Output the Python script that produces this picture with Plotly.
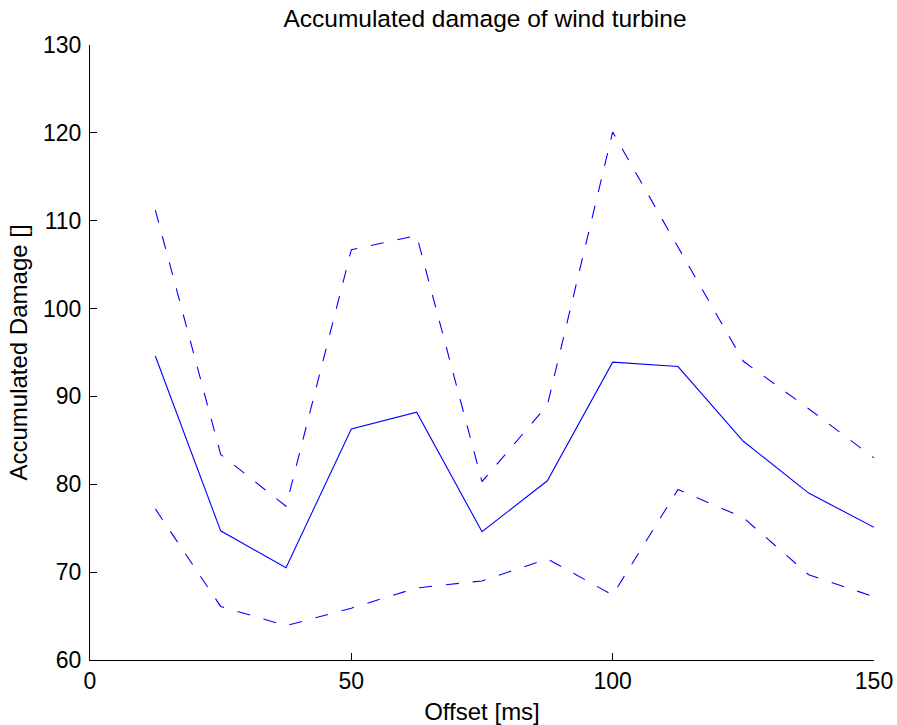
import plotly.graph_objects as go

offset_ms = [12.5, 25, 37.5, 50, 62.5, 75, 87.5, 100, 112.5, 125, 137.5, 150]
damage_mean = [94.6, 74.7, 70.5, 86.3, 88.2, 74.6, 80.4, 93.9, 93.4, 84.9, 79.0, 75.1]
damage_upper = [111.2, 83.4, 77.5, 106.7, 108.3, 80.3, 89.0, 120.1, 107.0, 94.0, 88.6, 83.0]
damage_lower = [77.2, 66.1, 63.9, 65.9, 68.2, 69.0, 71.5, 67.4, 79.4, 76.2, 69.7, 67.2]

x_ticks = [0, 50, 100, 150]
y_ticks = [60, 70, 80, 90, 100, 110, 120, 130]

FONT = "Liberation Sans, Arial, Helvetica, sans-serif"
BLUE = "#0000ff"

W, H = 897, 725

fig = go.Figure()
fig.add_trace(go.Scatter(x=offset_ms, y=damage_mean, mode="lines",
                         line=dict(color=BLUE, width=1.1), showlegend=False))
fig.add_trace(go.Scatter(x=offset_ms, y=damage_upper, mode="lines",
                         line=dict(color=BLUE, width=1.1, dash="13px,14px"), showlegend=False))
fig.add_trace(go.Scatter(x=offset_ms, y=damage_lower, mode="lines",
                         line=dict(color=BLUE, width=1.1, dash="13px,14px"), showlegend=False))

fig.update_layout(
    width=W, height=H,
    margin=dict(l=90, r=23, t=45, b=65, autoexpand=False),
    paper_bgcolor="white", plot_bgcolor="white",
    font=dict(family=FONT, size=23, color="black"),
    title=dict(text="Accumulated damage of wind turbine", x=485 / W, xanchor="center",
               xref="container", yref="container",
               y=1 - 18 / H, yanchor="middle", font=dict(size=24.5, color="black")),
)
fig.update_xaxes(
    range=[0, 150], tickvals=x_ticks, ticktext=[str(v) for v in x_ticks],
    ticks="inside", ticklen=7, tickcolor="black", tickwidth=1,
    showline=True, linecolor="black", linewidth=1, mirror=False,
    showgrid=False, zeroline=False, automargin=False,
    title=dict(text="Offset [ms]", standoff=11, font=dict(size=24)),
    tickfont=dict(size=23),
)
fig.update_yaxes(
    range=[60, 130], tickvals=y_ticks, ticktext=[str(v) for v in y_ticks],
    ticks="inside", ticklen=7, tickcolor="black", tickwidth=1,
    showline=True, linecolor="black", linewidth=1, mirror=False,
    showgrid=False, zeroline=False, automargin=False,
    ticklabelstandoff=3,
    title=dict(text="Accumulated Damage []", standoff=8, font=dict(size=24)),
    tickfont=dict(size=23),
)

fig.write_html(
    "out.html",
    config={"displayModeBar": False},
    post_script="document.body.style.margin='0';document.body.style.overflow='hidden';",
)
